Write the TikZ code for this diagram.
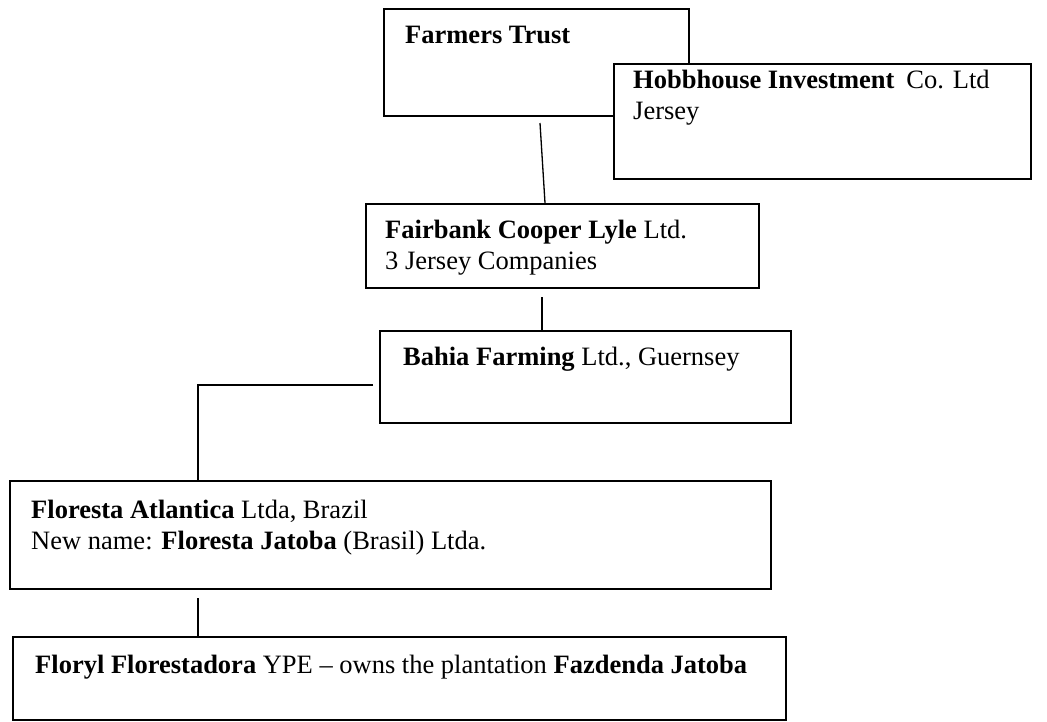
\documentclass[tikz,border=0pt]{standalone}
\usepackage{fontspec}
\setmainfont{Liberation Serif}
\begin{document}
\begin{tikzpicture}[x=1pt, y=-1pt,
    box/.style={draw, line width=1.5pt, fill=white, anchor=north west, inner sep=0pt},
    txt/.style={anchor=base west, inner sep=0pt, align=left, font=\fontsize{26.5}{31}\selectfont},
    link/.style={line width=1.3pt}]
  \useasboundingbox (0, 0) rectangle (1047, 721);

  \node (farmers) at (383, 8) [box, minimum width=305pt, minimum height=107pt] {};
  \node (hobbhouse) at (613, 63) [box, minimum width=417pt, minimum height=115pt] {};
  \node (fairbank) at (365, 203) [box, minimum width=393pt, minimum height=84pt] {};
  \node (bahia) at (379, 330) [box, minimum width=411pt, minimum height=92pt] {};
  \node (floresta) at (9, 480) [box, minimum width=761pt, minimum height=108pt] {};
  \node (floryl) at (12, 636) [box, minimum width=773pt, minimum height=83pt] {};

  % two-line texts sit on the baseline of their last line
  \node (farmersTxt) at (405, 43) [txt] {\textbf{Farmers Trust}};
  \node (hobbhouseTxt) at (633, 119) [txt] {\textbf{Hobbhouse Investment}\hspace{0.45em}Co. Ltd\\Jersey};
  \node (fairbankTxt) at (385, 269) [txt] {\textbf{Fairbank Cooper Lyle} Ltd.\\3 Jersey Companies};
  \node (bahiaTxt) at (403, 365) [txt] {\textbf{Bahia Farming} Ltd., Guernsey};
  \node (florestaTxt) at (31, 549) [txt] {\textbf{Floresta Atlantica} Ltda, Brazil\\New name: \textbf{Floresta Jatoba} (Brasil) Ltda.};
  \node (florylTxt) at (35, 673) [txt] {\textbf{Floryl Florestadora} YPE -- owns the plantation \textbf{Fazdenda Jatoba}};

  \coordinate (linkA) at (540, 123);
  \draw[link] (linkA) -- ([xshift=5pt]linkA |- fairbank.north);
  \coordinate (linkB) at (542, 297);
  \draw[link] (linkB) -- (linkB |- bahia.north);
  \coordinate (linkC) at (373, 385);
  \coordinate (elbow) at (198, 385);
  \draw[link] (linkC) -- (elbow) -- (elbow |- floresta.north);
  \coordinate (linkD) at (198, 598);
  \draw[link] (linkD) -- (linkD |- floryl.north);
\end{tikzpicture}
\end{document}
